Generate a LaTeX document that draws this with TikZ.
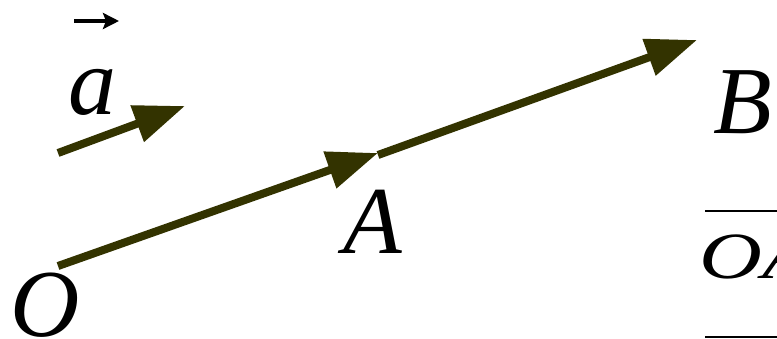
\documentclass[tikz,border=0pt]{standalone}
\usepackage{fontspec}
\setmainfont{Liberation Serif}
\usetikzlibrary{arrows.meta,positioning}
\definecolor{vecolive}{HTML}{333300}

\tikzset{
  vecline/.style={draw=vecolive, line width=8pt, -{Triangle[length=51pt,width=37pt]}},
  ptlabel/.style={inner sep=0pt, anchor=base west, font=\fontsize{96}{96}\selectfont\itshape},
  barlabel/.style={inner sep=0pt, anchor=base west, font=\fontsize{66}{66}\selectfont\itshape}
}

\begin{document}
\begin{tikzpicture}[x=1pt,y=-1pt]
\useasboundingbox (0,0) rectangle (777,339);
\clip (0,0) rectangle (777,339);
% points
\coordinate (O) at (58,266);
\coordinate (A) at (378,153);
\coordinate (A2) at (378,155);
\coordinate (B) at (697,40);
\coordinate (as) at (58,153);
\coordinate (ae) at (185,106);
% vectors
\draw[vecline] (as) -- (ae);
\draw[vecline] (O) -- (A);
\draw[vecline] (A2) -- (B);
% labels
\node[ptlabel] (lbla) at (68,115) {a};
\coordinate (vs) at (74,21);
\coordinate (ve) at (119,21);
\draw[line width=4.5pt, -{Stealth[length=16pt,width=16pt,inset=3pt]}] (vs) -- (ve);
\node[ptlabel] (lblO) at (10,336) {O};
\node[ptlabel] (lblA) at (343,254) {A};
\node[ptlabel] (lblB) at (713,134) {B};
\node[barlabel] (lblOA) at (699,279) {\scalebox{1.32}[1]{OA}};
\draw[line width=2.5pt] (705,211) -- (790,211);
\draw[line width=2.5pt] (705,337) -- (790,337);
\end{tikzpicture}
\end{document}
